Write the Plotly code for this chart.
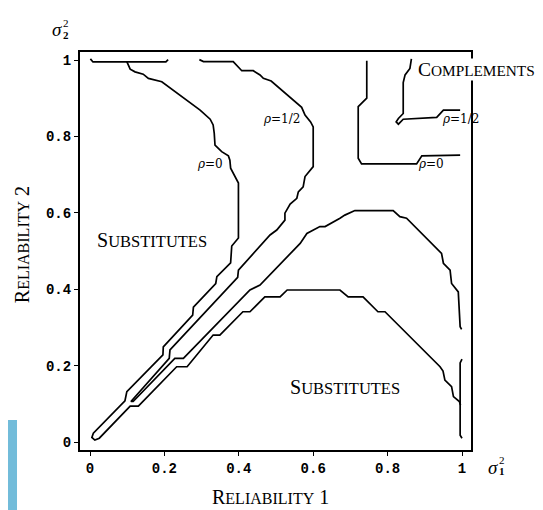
import plotly.graph_objects as go

# ---- tick values / labels ----
x_ticks = [0, 0.2, 0.4, 0.6, 0.8, 1]
x_tick_labels = ["0", "0.2", "0.4", "0.6", "0.8", "1"]
y_ticks = [0, 0.2, 0.4, 0.6, 0.8, 1]
y_tick_labels = ["0", "0.2", "0.4", "0.6", "0.8", "1"]

# ---- contour rho = 0 (main curve: upper-left branch, around origin, lower-right branch) ----
rho0_x = [0.099, 0.108, 0.121, 0.143, 0.157, 0.175, 0.193, 0.296, 0.323, 0.331, 0.334, 0.336,
          0.354, 0.372, 0.376, 0.378, 0.390, 0.399, 0.399, 0.381, 0.378, 0.363, 0.341, 0.338,
          0.278, 0.276, 0.197, 0.196, 0.099, 0.094, 0.009, 0.005, 0.013, 0.025, 0.108, 0.130,
          0.233, 0.261, 0.331, 0.349, 0.411, 0.430, 0.470, 0.511, 0.530, 0.672, 0.694, 0.734,
          0.774, 0.793, 0.941, 0.949, 0.954, 0.972, 0.977, 0.993, 0.996]
rho0_y = [0.996, 0.976, 0.969, 0.963, 0.952, 0.948, 0.943, 0.869, 0.845, 0.830, 0.808, 0.777,
          0.760, 0.749, 0.738, 0.717, 0.696, 0.678, 0.534, 0.513, 0.469, 0.455, 0.433, 0.415,
          0.353, 0.332, 0.249, 0.228, 0.132, 0.108, 0.023, 0.012, 0.005, 0.010, 0.094, 0.094,
          0.197, 0.197, 0.280, 0.280, 0.341, 0.341, 0.380, 0.380, 0.398, 0.398, 0.380, 0.380,
          0.341, 0.341, 0.197, 0.186, 0.162, 0.145, 0.119, 0.106, 0.097]

# edge pieces of rho = 0 along sigma2 = 1 and sigma1 = 1
rho0_top_x = [0.001, 0.008, 0.204, 0.210]
rho0_top_y = [1.003, 0.995, 0.995, 1.001]
rho0_right_x = [1.000, 0.995, 0.995, 1.000]
rho0_right_y = [0.217, 0.207, 0.018, 0.010]

# ---- contour rho = 1/2 (substitutes boundary) ----
rho5_x = [0.294, 0.305, 0.385, 0.399, 0.408, 0.439, 0.457, 0.466, 0.479, 0.487, 0.569, 0.578,
          0.593, 0.600, 0.600, 0.578, 0.573, 0.560, 0.556, 0.538, 0.524, 0.524, 0.502, 0.484,
          0.399, 0.397, 0.215, 0.213, 0.110, 0.116, 0.228, 0.251, 0.430, 0.457, 0.565, 0.583,
          0.618, 0.632, 0.672, 0.685, 0.712, 0.815, 0.833, 0.851, 0.945, 0.950, 0.968, 0.972,
          0.990, 0.995, 0.999]
rho5_y = [1.001, 0.996, 0.996, 0.982, 0.972, 0.972, 0.961, 0.952, 0.948, 0.945, 0.876, 0.856,
          0.838, 0.825, 0.721, 0.695, 0.668, 0.655, 0.638, 0.623, 0.599, 0.581, 0.555, 0.542,
          0.450, 0.431, 0.241, 0.219, 0.106, 0.106, 0.219, 0.219, 0.398, 0.411, 0.520, 0.546,
          0.564, 0.564, 0.586, 0.594, 0.606, 0.606, 0.590, 0.586, 0.494, 0.468, 0.450, 0.415,
          0.393, 0.302, 0.295]

# ---- complements corner, rho = 0 ----
comp0_x = [0.744, 0.744, 0.721, 0.721, 0.730, 0.878, 0.892, 0.995]
comp0_y = [0.998, 0.900, 0.878, 0.743, 0.728, 0.728, 0.749, 0.751]

# ---- complements corner, rho = 1/2 ----
comp5_x = [0.864, 0.860, 0.847, 0.842, 0.842, 0.829, 0.823, 0.829, 0.842, 0.932, 0.950, 0.995]
comp5_y = [1.003, 0.978, 0.961, 0.941, 0.860, 0.847, 0.838, 0.832, 0.845, 0.850, 0.869, 0.869]

curves = [
    (rho0_x, rho0_y), (rho0_top_x, rho0_top_y), (rho0_right_x, rho0_right_y),
    (rho5_x, rho5_y), (comp0_x, comp0_y), (comp5_x, comp5_y),
]

fig = go.Figure()
for cx, cy in curves:
    fig.add_trace(go.Scatter(x=cx, y=cy, mode="lines",
                             line=dict(color="black", width=1.7),
                             showlegend=False, hoverinfo="skip"))

serif = "Liberation Serif"
rho_font = dict(family="DejaVu Serif", size=12, color="black")
blk = dict(family=serif, color="black")


def smallcaps(first, rest, big, small, tail=""):
    s = f"<span style='font-size:{big}px'>{first}</span><span style='font-size:{small}px'>{rest}</span>"
    if tail:
        s += f"<span style='font-size:{big}px'>{tail}</span>"
    return s


def ann(x, y, text, font, xanchor="center", ref="data", **kw):
    d = dict(x=x, y=y, text=text, font=font, showarrow=False,
             xanchor=xanchor, yanchor="middle", **kw)
    if ref == "paper":
        d.update(xref="paper", yref="paper")
    return d


annotations = [
    ann(0.323, 0.728, "<i>ρ</i>=0", rho_font),
    ann(0.516, 0.846, "<i>ρ</i>=1/2", rho_font),
    ann(0.917, 0.728, "<i>ρ</i>=0", rho_font),
    ann(0.995, 0.846, "<i>ρ</i>=1/2", rho_font),
    ann(0.880, 0.974, smallcaps("C", "OMPLEMENTS", 19.5, 15.3), blk, xanchor="left",
        bgcolor="white", borderpad=0),
    ann(0.013, 0.529, smallcaps("S", "UBSTITUTES", 20, 16.5), blk, xanchor="left"),
    ann(0.532, 0.144, smallcaps("S", "UBSTITUTES", 20, 16.5), blk, xanchor="left"),
    # axis titles
    ann(0.488, -0.118, smallcaps("R", "ELIABILITY", 20, 16, " 1"), blk, ref="paper"),
    ann(-0.148, 0.515, smallcaps("R", "ELIABILITY", 20, 16, " 2"), blk, ref="paper",
        textangle=-90),
    # sigma labels
    ann(-0.0588, 1.056, "<i>σ</i>", dict(family=serif, size=19, color="black"), ref="paper"),
    ann(-0.0358, 1.072, "2", dict(family=serif, size=11, color="black"), ref="paper"),
    ann(-0.0358, 1.043, "<b>2</b>", dict(family=serif, size=11, color="black"), ref="paper"),
    ann(1.056, -0.043, "<i>σ</i>", dict(family=serif, size=19, color="black"), ref="paper"),
    ann(1.080, -0.025, "2", dict(family=serif, size=11, color="black"), ref="paper"),
    ann(1.080, -0.054, "<b>1</b>", dict(family=serif, size=11, color="black"), ref="paper"),
]

tickfont = dict(family="Liberation Mono", size=14, color="black", weight="bold")

fig.update_layout(
    width=535, height=502,
    margin=dict(l=72, r=72, t=44, b=60, pad=0),
    paper_bgcolor="white", plot_bgcolor="white",
    showlegend=False,
    annotations=annotations,
    shapes=[dict(type="rect", xref="paper", yref="paper",
                 x0=-0.19, x1=-0.1611, y0=-0.1508, y1=0.0754,
                 fillcolor="#72BCDA", line=dict(width=0), layer="below")],
    xaxis=dict(range=[-0.0269, 1.0242], tickvals=x_ticks, ticktext=x_tick_labels,
               showgrid=False, zeroline=False, showline=True, linecolor="black",
               linewidth=2, mirror=True, ticks="outside", ticklen=4, tickcolor="black",
               tickfont=tickfont),
    yaxis=dict(range=[-0.0209, 1.021], tickvals=y_ticks, ticktext=y_tick_labels,
               showgrid=False, zeroline=False, showline=True, linecolor="black",
               linewidth=2, mirror=True, ticks="outside", ticklen=4, tickcolor="black",
               tickfont=tickfont),
)

fig.write_html("out.html")
